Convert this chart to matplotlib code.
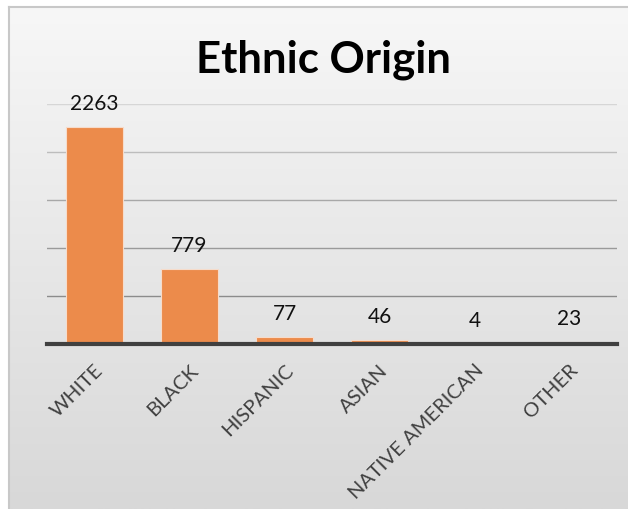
import matplotlib
matplotlib.use("Agg")
import matplotlib.pyplot as plt
import numpy as np

categories = ["WHITE", "BLACK", "HISPANIC", "ASIAN", "NATIVE AMERICAN", "OTHER"]
counts = [2263, 779, 77, 46, 4, 23]
y_ticks = [0, 500, 1000, 1500, 2000, 2500]

plt.rcParams['font.family'] = ['Lato', 'DejaVu Sans']

fig = plt.figure(figsize=(6.28, 5.10), dpi=100)
fig.patch.set_facecolor("white")

# chart area background with a soft vertical gradient (Excel style)
bg = fig.add_axes([9 / 628, 0, 1 - 9 / 628, 1 - 8 / 510])
grad = np.linspace(0, 1, 256).reshape(-1, 1)
cmap = matplotlib.colors.LinearSegmentedColormap.from_list("bg", ["#f7f7f7", "#d8d8d8"])
bg.imshow(grad, aspect="auto", cmap=cmap, extent=[0, 1, 0, 1])
bg.set_xticks([])
bg.set_yticks([])
for side in ["right", "bottom"]:
    bg.spines[side].set_visible(False)
for side in ["left", "top"]:
    bg.spines[side].set_color("#c8c8c8")
    bg.spines[side].set_linewidth(1.5)

ax = fig.add_axes([47 / 628, 165 / 510, 570 / 628, 240 / 510])
ax.patch.set_alpha(0)

x = np.arange(len(categories))
bars = ax.bar(x, counts, width=0.6, color="#ec8b4b", edgecolor="#f6dccb", linewidth=0.8, zorder=3)

for b, v in zip(bars, counts):
    ax.annotate(str(v), (b.get_x() + b.get_width() / 2, v), xytext=(0, 10),
                textcoords="offset points", ha="center", va="bottom",
                fontsize=15, color="#111111")

ax.set_xlim(-0.5, len(categories) - 0.5)
ax.set_ylim(0, 2500)
ax.set_yticks(y_ticks)
ax.set_yticklabels([])
ax.tick_params(axis="y", length=0)
ax.tick_params(axis="x", length=0, pad=12)
ax.set_xticks(x)
ax.set_xticklabels(categories, rotation=45, ha="right", rotation_mode="anchor",
                   fontsize=14.5, color="#404040")

ax.yaxis.grid(True, linewidth=1, zorder=0)
grid_colors = ["#404040", "#8c8c8c", "#9a9a9a", "#a8a8a8", "#bdbdbd", "#d6d6d6"]
for gl, c in zip(ax.get_ygridlines(), grid_colors):
    gl.set_color(c)

for side in ["left", "right", "top"]:
    ax.spines[side].set_visible(False)
ax.spines["bottom"].set_color("#404040")
ax.spines["bottom"].set_linewidth(3)
ax.spines["bottom"].set_zorder(4)

fig.text(323 / 628, 1 - 60 / 510, "Ethnic Origin", ha="center", va="center",
         fontsize=31.5, fontweight="bold", color="#000000")

fig.savefig("out.png", dpi=100)
